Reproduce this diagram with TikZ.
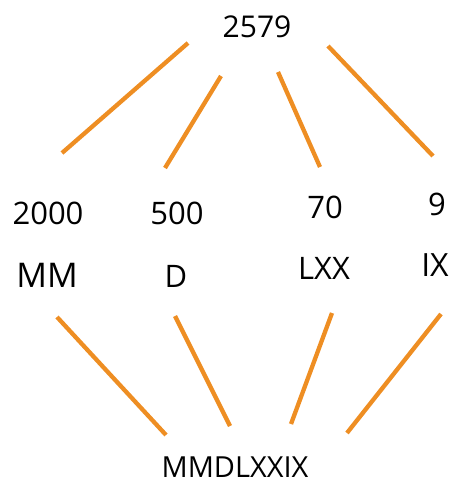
\documentclass[tikz,border=0pt]{standalone}
\usepackage{fontspec}
\setmainfont{Open Sans}
\definecolor{lineorange}{RGB}{238,142,35}
\tikzset{
  link/.style={lineorange, line width=4.3pt},
  lbl/.style={inner sep=0pt, font=\fontsize{31}{33}\selectfont},
}
\begin{document}
\begin{tikzpicture}[x=1pt,y=-1pt]
\useasboundingbox (0,0) rectangle (457,483);

% numbers
\node[lbl, font=\fontsize{30}{32}\selectfont] (total) at (257,27) {2579};
\node[lbl] (thou) at (48,213) {2000};
\node[lbl] (fivec) at (177,213) {500};
\node[lbl] (tens) at (325,207) {70};
\node[lbl] (ones) at (437,204) {9};

% roman parts
\node[lbl, font=\fontsize{34}{36}\selectfont] (mm) at (47,275) {MM};
\node[lbl] (d) at (176,276) {D};
\node[lbl] (lxx) at (324,268) {LXX};
\node[lbl, font=\fontsize{32}{34}\selectfont] (ix) at (435,265) {IX};
\node[lbl, font=\fontsize{29}{31}\selectfont] (roman) at (235,467) {MMDLXXIX};

% line ends
\coordinate (t1) at (188,43);  \coordinate (b1) at (62,153);
\coordinate (t2) at (221,76);  \coordinate (b2) at (165,168);
\coordinate (t3) at (278,72);  \coordinate (b3) at (320,167);
\coordinate (t4) at (328,46);  \coordinate (b4) at (433,156);
\coordinate (u1) at (57,317);  \coordinate (v1) at (166,435);
\coordinate (u2) at (175,316); \coordinate (v2) at (230,426);
\coordinate (u3) at (332,313); \coordinate (v3) at (291,424);
\coordinate (u4) at (441,314); \coordinate (v4) at (347,433);

\foreach \i in {1,...,4} \draw[link] (t\i) -- (b\i);
\foreach \i in {1,...,4} \draw[link] (u\i) -- (v\i);
\end{tikzpicture}
\end{document}
